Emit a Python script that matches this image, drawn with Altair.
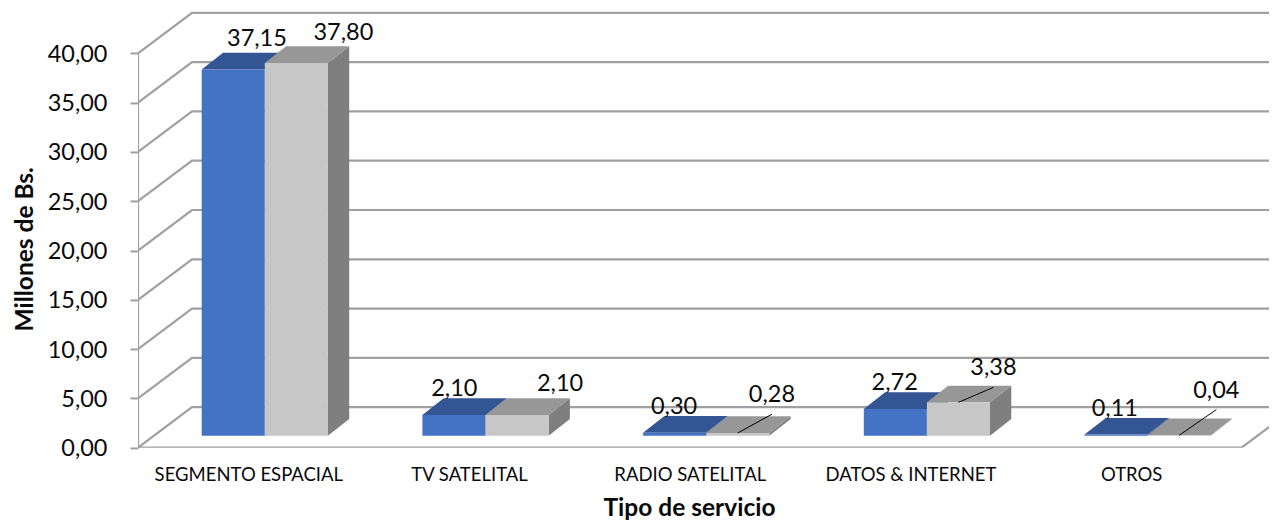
import altair as alt
import pandas as pd

categories = ["SEGMENTO ESPACIAL", "TV SATELITAL", "RADIO SATELITAL", "DATOS & INTERNET", "OTROS"]
serie_a = [37.15, 2.10, 0.30, 2.72, 0.11]
serie_b = [37.80, 2.10, 0.28, 3.38, 0.04]
ticks = [0, 5, 10, 15, 20, 25, 30, 35, 40]

# scale factors (pixels per data unit) and pseudo-3D depth, in data units
PX_X, PX_Y = 220.7, 9.86
WALL_X, WALL_Y = 54 / PX_X, 40.5 / PX_Y
BAR_START, BAR_W = 63.7 / PX_X, 63.1 / PX_X
BASE = 12 / PX_Y
DEPTH_X, DEPTH_Y = 21.3 / PX_X, 16.7 / PX_Y
N = len(categories)
PLOT_W = 1131

# label offsets from the top-front centre of each bar, in pixels (dx, dy, leader line)
off_a = [(23.7, -31.9, 0), (0.4, -27.3, 0), (-0.6, -27, 0), (-0.7, -26.9, 0), (-1.2, -26.6, 0)]
off_b = [(47, -31, 0), (43, -32, 0), (34.2, -38.7, 1), (35, -35, 1), (37.2, -45.7, 1)]

xs = alt.Scale(domain=[0, PLOT_W / PX_X], range=[0, PLOT_W], nice=False, zero=False)
ys = alt.Scale(domain=[0, 44.5], nice=False, zero=False)
FONT = "Lato"
INK = "#0a0a0a"
names = "[" + ",".join("'" + c + "'" for c in categories) + "]"
X = alt.X("x:Q", scale=xs, axis=alt.Axis(
    values=[i + 0.5 for i in range(N)], labelExpr=names + "[floor(datum.value)]",
    domain=False, grid=False, ticks=False, labelFont=FONT, labelFontSize=18.5, labelColor=INK,
    labelPadding=18, labelBaseline="top", labelFlush=False, labelOverlap=False, labelLimit=400,
    title="Tipo de servicio", titleFont=FONT, titleFontSize=24.5, titleFontWeight="bold",
    titleColor=INK, titleX=551, titleY=61, titleBaseline="middle"))
Y = alt.Y("y:Q", scale=ys, stack=None, axis=alt.Axis(
    values=ticks, labelExpr="replace(format(datum.value,'.2f'),'.',',')",
    domain=False, grid=False, tickSize=8, tickWidth=2, tickColor="#A0A0A0",
    labelFont=FONT, labelFontSize=23.5, labelColor=INK, labelPadding=23, labelOffset=1,
    title="Millones de Bs.", titleFont=FONT, titleFontSize=24.5, titleFontWeight="bold",
    titleColor=INK, titleX=-113, titleY=240, titleBaseline="middle"))

# walls and floor
rows = []
for v in ticks:
    for x, y in [(0, v), (WALL_X, v + WALL_Y), (N + WALL_X, v + WALL_Y)]:
        rows.append(dict(id=f"g{v}", x=x, y=y))
for x, y in [(0, 0), (0, ticks[-1])]:
    rows.append(dict(id="left", x=x, y=y))
for x, y in [(0, 0), (N, 0), (N + WALL_X, WALL_Y)]:
    rows.append(dict(id="floor", x=x, y=y))
frame = alt.Chart(pd.DataFrame(rows)).mark_line(color="#A0A0A0", strokeWidth=2.2, clip=True).encode(
    x=X, y=Y, detail="id:N")


def bar_layers(values, shift, front, top, side):
    fronts, tops, sides = [], [], []
    for i, v in enumerate(values):
        x0 = i + BAR_START + shift * BAR_W
        x1 = x0 + BAR_W
        t = BASE + v
        fronts.append(dict(x=x0, x2=x1, y=BASE, y2=t))
        for x, a, b in [(x0, t, t), (x0 + DEPTH_X, t, t + DEPTH_Y),
                        (x1, t, t + DEPTH_Y), (x1 + DEPTH_X, t + DEPTH_Y, t + DEPTH_Y)]:
            tops.append(dict(id=i, x=x, y=a, y2=b))
        for x, a, b in [(x1, BASE, t), (x1 + DEPTH_X, BASE + DEPTH_Y, t + DEPTH_Y)]:
            sides.append(dict(id=i, x=x, y=a, y2=b))
    return [
        alt.Chart(pd.DataFrame(sides)).mark_area(color=side, opacity=1).encode(
            x=X, y=Y, y2="y2:Q", detail="id:N"),
        alt.Chart(pd.DataFrame(tops)).mark_area(color=top, opacity=1).encode(
            x=X, y=Y, y2="y2:Q", detail="id:N"),
        alt.Chart(pd.DataFrame(fronts)).mark_rect(color=front, opacity=1).encode(
            x=X, x2="x2:Q", y=Y, y2="y2:Q"),
    ]


labels, leaders = [], []
for shift, values, offs in [(0, serie_a, off_a), (1, serie_b, off_b)]:
    for i, (v, (dx, dy, lead)) in enumerate(zip(values, offs)):
        cx = i + BAR_START + (shift + 0.5) * BAR_W
        t = BASE + v
        labels.append(dict(x=cx + dx / PX_X, y=t - (dy + 1) / PX_Y, label=f"{v:.2f}".replace(".", ",")))
        if lead:
            lid = f"{shift}-{i}"
            leaders.append(dict(id=lid, x=cx, y=t))
            leaders.append(dict(id=lid, x=cx + dx / PX_X, y=t - (dy + 20) / PX_Y))

text = alt.Chart(pd.DataFrame(labels)).mark_text(
    font=FONT, fontSize=23.5, color=INK, baseline="middle", align="center").encode(
    x=X, y=Y, text="label:N")
lead = alt.Chart(pd.DataFrame(leaders)).mark_line(color="#000000", strokeWidth=1).encode(
    x=X, y=Y, detail="id:N")

layers = [frame] + bar_layers(serie_a, 0, "#4472C4", "#335593", "#2A4A80") \
    + bar_layers(serie_b, 1, "#C7C7C7", "#979797", "#7F7F7F") + [lead, text]

chart = alt.layer(*layers).properties(
    width=PLOT_W, height=44.5 * PX_Y,
    autosize=alt.AutoSizeParams(type="none"),
    padding={"left": 130, "top": 0.93, "right": 0, "bottom": 73.3},
    background="white",
).configure_view(stroke=None)

chart.save("out.html", embed_options={"renderer": "svg", "actions": False})
